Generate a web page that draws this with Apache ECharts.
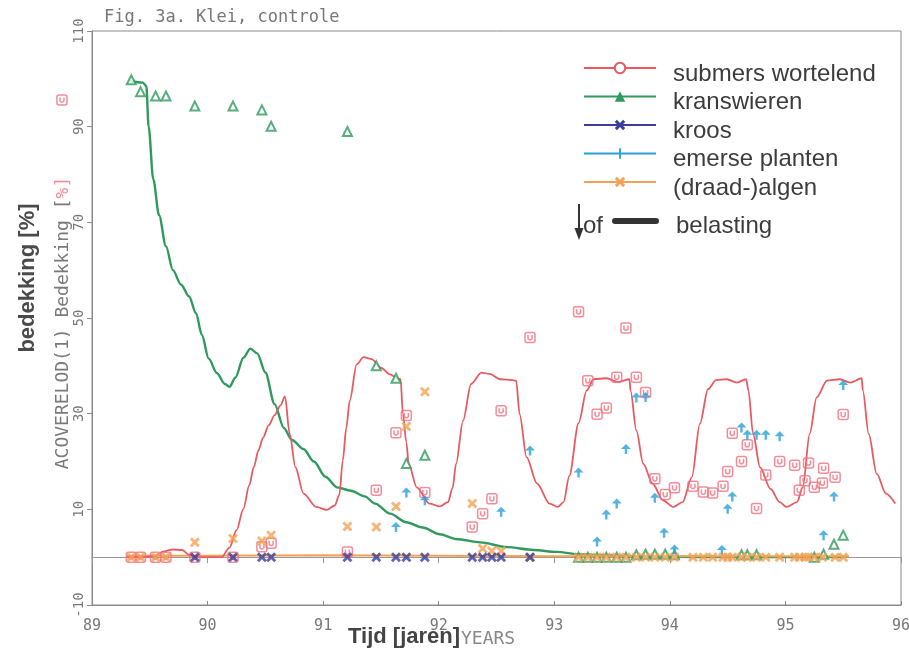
<!DOCTYPE html>
<html>
<head>
<meta charset="utf-8">
<script src="https://cdn.jsdelivr.net/npm/echarts@6/dist/echarts.min.js"></script>
<style>
  html, body { margin: 0; padding: 0; background: #fff; }
  #chart { width: 909px; height: 658px; }
</style>
</head>
<body>
<div id="chart"></div>
<script>
// Axis ranges and tick labels
const yearTicks = [89, 90, 91, 92, 93, 94, 95, 96];
const coverMin = -10, coverMax = 110;

// Model curves [year, bedekking %]
const submersModel = [[89.30,0],[89.45,0],[89.55,0.3],[89.62,1.2],[89.70,1.6],[89.78,1.5],[89.84,0.5],[89.90,0],[90.12,0],[90.19,2.0],[90.25,5.6],[90.31,10.1],[90.36,15.0],[90.40,18.8],[90.44,22.3],[90.48,25.0],[90.53,27.6],[90.58,29.7],[90.63,31.7],[90.67,33.6],[90.71,25.8],[90.76,18.8],[90.83,13.3],[90.94,10.5],[91.03,9.9],[91.10,10.8],[91.14,13.0],[91.17,20.2],[91.20,27.0],[91.23,32.7],[91.29,40.3],[91.35,41.8],[91.42,41.4],[91.50,39.6],[91.58,38.2],[91.64,37.4],[91.67,37.2],[91.69,30.0],[91.72,24.0],[91.74,19.5],[91.81,14.6],[91.92,11.2],[92.01,10.6],[92.08,11.5],[92.12,14.5],[92.15,19.5],[92.21,28.5],[92.28,36.2],[92.37,38.6],[92.44,38.3],[92.53,37.2],[92.63,37.0],[92.67,36.9],[92.70,29.9],[92.76,20.9],[92.85,15.4],[92.96,11.2],[93.03,10.5],[93.08,11.5],[93.13,17.0],[93.21,28.0],[93.28,34.8],[93.34,37.2],[93.45,37.4],[93.55,36.6],[93.65,37.2],[93.66,34.8],[93.71,26.5],[93.77,19.5],[93.85,15.4],[93.94,11.9],[94.03,10.5],[94.11,11.5],[94.19,16.7],[94.26,27.9],[94.33,35.1],[94.40,37.0],[94.49,37.2],[94.58,36.5],[94.66,37.2],[94.68,34.8],[94.72,25.8],[94.78,18.8],[94.87,14.3],[94.95,11.5],[95.01,10.5],[95.10,11.5],[95.15,14.6],[95.21,25.8],[95.27,33.4],[95.36,36.9],[95.47,37.2],[95.56,36.5],[95.66,37.4],[95.67,34.8],[95.72,25.8],[95.79,17.4],[95.87,13.3],[95.95,11.2]];

const kranswierenModel = [[89.33,99.5],[89.44,99.2],[89.47,98.5],[89.49,90.0],[89.53,79.0],[89.58,71.5],[89.64,65.0],[89.70,60.0],[89.77,57.0],[89.84,54.5],[89.90,51.0],[89.95,46.5],[90.01,41.5],[90.08,38.5],[90.15,36.2],[90.19,35.6],[90.24,37.5],[90.31,41.7],[90.37,43.6],[90.43,42.6],[90.50,38.6],[90.58,32.0],[90.66,27.0],[90.73,24.5],[90.83,22.6],[90.92,20.0],[91.02,16.8],[91.12,14.6],[91.24,13.9],[91.36,12.7],[91.45,11.2],[91.58,9.1],[91.72,7.3],[91.86,6.2],[92.01,4.8],[92.15,3.8],[92.36,3.1],[92.59,2.1],[92.82,1.5],[93.02,1.1],[93.22,0.6],[93.39,0.4],[93.70,0.2],[94.00,0.1],[94.50,0],[95.50,0]];

const algenModel = [[89.30,0.3],[90.00,0.3],[91.00,0.4],[92.00,0.3],[93.00,0.2],[94.00,0.2],[95.00,0.2],[95.55,0.2]];

// Field observations [year, bedekking %]
const submersObs = [[88.74,95.6],[89.34,0],[89.42,0],[89.55,0],[89.64,0],[89.89,0],[90.22,0],[90.47,2.2],[90.55,2.9],[91.21,1.1],[91.46,14.0],[91.63,26.0],[91.72,29.6],[91.88,13.5],[92.29,6.3],[92.38,9.1],[92.46,12.2],[92.54,30.6],[92.79,45.9],[93.21,51.3],[93.29,36.9],[93.37,29.9],[93.45,31.2],[93.54,37.6],[93.62,47.9],[93.71,37.6],[93.79,34.4],[93.87,16.4],[93.96,13.1],[94.04,14.5],[94.20,14.8],[94.29,13.6],[94.37,13.4],[94.46,14.8],[94.50,17.9],[94.54,25.9],[94.62,20.0],[94.67,23.5],[94.75,10.2],[94.83,17.2],[94.95,20.0],[95.08,19.2],[95.12,14.0],[95.17,16.0],[95.20,19.7],[95.25,14.6],[95.32,15.5],[95.33,18.6],[95.43,16.7],[95.50,29.8]];

const kranswierenObs = [[89.34,99.8],[89.42,97.3],[89.55,96.4],[89.64,96.4],[89.89,94.3],[90.22,94.3],[90.47,93.5],[90.55,90.1],[91.21,89.0],[91.46,40.0],[91.63,37.4],[91.72,19.6],[91.88,21.3],[93.21,0],[93.29,0],[93.37,0],[93.45,0],[93.54,0],[93.62,0],[93.71,0.5],[93.79,0.6],[93.87,0.6],[93.96,0.6],[94.04,0.5],[94.62,0.5],[94.67,0.5],[94.75,0.5],[95.25,0],[95.33,0.6],[95.42,2.7],[95.50,4.6]];

const kroosObs = [[89.89,0],[90.22,0],[90.47,0],[90.55,0],[91.21,0],[91.46,0],[91.63,0],[91.72,0],[91.88,0],[92.29,0],[92.38,0],[92.46,0],[92.54,0],[92.79,0]];

const emerseObs = [[91.63,6.3],[91.72,13.5],[91.88,11.9],[92.54,9.5],[92.79,22.3],[93.21,17.7],[93.37,3.3],[93.45,8.9],[93.54,11.2],[93.62,22.6],[93.71,33.4],[93.79,33.5],[93.87,12.4],[93.95,5.1],[94.04,1.6],[94.45,1.5],[94.50,10.1],[94.54,12.7],[94.62,27.1],[94.67,25.6],[94.75,25.6],[94.83,25.6],[94.95,25.3],[95.33,4.6],[95.42,12.7],[95.50,36.0]];

const algenObs = [[89.34,0],[89.42,0],[89.55,0],[89.64,0],[89.89,3.1],[90.22,3.9],[90.47,3.4],[90.55,4.6],[91.21,6.4],[91.46,6.3],[91.63,10.6],[91.72,27.3],[91.88,34.6],[92.29,11.2],[92.38,1.8],[92.46,1.3],[92.54,1.3],[92.79,0],[93.21,0],[93.29,0],[93.37,0],[93.45,0],[93.54,0],[93.62,0],[93.71,0],[93.79,0],[93.87,0],[93.96,0],[94.04,0],[94.20,0],[94.29,0],[94.37,0],[94.46,0],[94.50,0],[94.54,0],[94.62,0],[94.67,0],[94.75,0],[94.83,0],[94.95,0],[95.08,0],[95.12,0],[95.17,0],[95.20,0],[95.25,0],[95.32,0],[95.43,0],[95.50,0]];

const legendNames = ['submers wortelend', 'kranswieren', 'kroos', 'emerse planten', '(draad-)algen'];

// Colours
const cRed = '#e85a60', cRedMark = '#ef7080';
const cGreen = '#2f9a5d', cNavy = '#3a3d9a', cBlue = '#2ba0d8', cOrange = '#f4a155';
const cAxis = '#8a8a8a', cTick = '#777';

// Marker shapes
const xShape = 'path://M0,2L2,0L5,3L8,0L10,2L7,5L10,8L8,10L5,7L2,10L0,8L3,5Z';
const arrowShape = 'path://M5,0L10,5H6.2V10H3.8V5H0Z';
// thin upright tick, padded to a square box so it is not stretched
const barShape = 'path://M0,0L0.01,0L0,0.01Z M9.99,10L10,10L10,9.99Z M4.1,0H5.9V10H4.1Z';
const cupShape = 'path://M2,0H8Q10,0 10,2V8Q10,10 8,10H2Q0,10 0,8V2Q0,0 2,0Z M3,2.5V6Q5,8.5 7,6V2.5';

const mono = 'DejaVu Sans Mono';
const sans = 'Liberation Sans';

const chart = echarts.init(document.getElementById('chart'), null, { renderer: 'canvas' });

chart.setOption({
  animation: false,
  backgroundColor: '#fff',
  grid: {
    left: 92, right: 8, top: 31, bottom: 53,
    show: true, borderColor: cAxis, borderWidth: 1,
    outerBoundsMode: 'none'
  },
  xAxis: [
    {
      type: 'value', min: yearTicks[0], max: yearTicks[yearTicks.length - 1], interval: 1,
      position: 'bottom',
      axisLine: { onZero: false, lineStyle: { color: cAxis, width: 1 } },
      axisTick: { show: true, inside: true, length: 4, lineStyle: { color: cAxis } },
      axisLabel: { margin: 14, fontFamily: mono, fontSize: 15, color: cTick },
      splitLine: { show: false }
    },
    {
      type: 'value', min: yearTicks[0], max: yearTicks[yearTicks.length - 1], interval: 1,
      position: 'bottom',
      axisLine: { show: true, onZero: true, onZeroAxisIndex: 0, lineStyle: { color: '#999', width: 1 } },
      axisTick: { show: true, length: 6, lineStyle: { color: '#999' } },
      axisLabel: { show: false },
      splitLine: { show: false }
    }
  ],
  yAxis: [
    {
      type: 'value', min: coverMin, max: coverMax, position: 'left',
      axisLine: { show: true, onZero: false, lineStyle: { color: cAxis, width: 1 } },
      axisTick: { show: false },
      axisLabel: { show: false },
      splitLine: { show: false }
    },
    {
      // tick labels -10, 10, 30 ... 110 laid over the same span
      type: 'value', min: 0, max: coverMax - coverMin, interval: 20, position: 'left',
      axisLine: { show: false, onZero: false },
      axisTick: { show: true, length: 5, lineStyle: { color: cAxis } },
      axisLabel: {
        rotate: 90, margin: 6, fontFamily: mono, fontSize: 14, color: cTick,
        formatter: v => String(v + coverMin)
      },
      splitLine: { show: false }
    }
  ],
  legend: {
    data: legendNames,
    orient: 'vertical',
    left: 583, top: 52,
    padding: 0,
    itemWidth: 72, itemHeight: 13, itemGap: -5.5,
    selectedMode: false,
    // an empty first line drops each label slightly below its key line
    formatter: name => '{s| }\n{t|' + name + '}',
    textStyle: {
      padding: [0, 0, 0, 12],
      rich: {
        s: { fontSize: 8, lineHeight: 12 },
        t: { fontFamily: sans, fontSize: 24, lineHeight: 24, color: '#3c3c3c' }
      }
    }
  },
  series: [
    {
      name: 'kranswieren', type: 'line', data: kranswierenModel,
      symbol: 'triangle', showSymbol: false, smooth: 0.3, smoothMonotone: 'x',
      lineStyle: { color: cGreen, width: 2.4 }, itemStyle: { color: cGreen }, z: 2
    },
    {
      name: 'submers wortelend', type: 'line', data: submersModel,
      symbol: 'emptyCircle', showSymbol: false, smooth: 0.3, smoothMonotone: 'x',
      lineStyle: { color: cRed, width: 1.8 }, itemStyle: { color: cRed }, z: 3
    },
    {
      name: 'kroos', type: 'line', data: [],
      symbol: xShape, showSymbol: false,
      lineStyle: { color: cNavy, width: 2 }, itemStyle: { color: cNavy }
    },
    {
      name: 'emerse planten', type: 'line', data: [],
      symbol: barShape, showSymbol: false,
      lineStyle: { color: cBlue, width: 2 }, itemStyle: { color: cBlue }
    },
    {
      name: '(draad-)algen', type: 'line', data: algenModel,
      symbol: xShape, showSymbol: false,
      lineStyle: { color: cOrange, width: 2 }, itemStyle: { color: cOrange }, z: 2
    },
    {
      name: 'submers wortelend', type: 'scatter', data: submersObs, clip: false,
      symbol: cupShape, symbolSize: 10,
      itemStyle: { color: 'rgba(255,255,255,0)', borderColor: cRedMark, borderWidth: 1.5 }, z: 4
    },
    {
      name: 'kranswieren', type: 'scatter', data: kranswierenObs,
      symbol: 'emptyTriangle', symbolSize: 9,
      itemStyle: { color: cGreen, borderColor: cGreen, borderWidth: 2.2 }, z: 4
    },
    {
      name: 'emerse planten', type: 'scatter', data: emerseObs,
      symbol: arrowShape, symbolSize: 10,
      itemStyle: { color: cBlue }, z: 5
    },
    {
      name: '(draad-)algen', type: 'scatter', data: algenObs,
      symbol: xShape, symbolSize: 10,
      itemStyle: { color: cOrange }, z: 5
    },
    {
      name: 'kroos', type: 'scatter', data: kroosObs,
      symbol: xShape, symbolSize: 10,
      itemStyle: { color: cNavy }, z: 6
    }
  ],
  graphic: [
    {
      type: 'text', left: 104, top: 9,
      style: { text: 'Fig. 3a. Klei, controle', fontFamily: mono, fontSize: 17, fill: '#777' }
    },
    {
      type: 'text', x: 28, y: 278, rotation: Math.PI / 2,
      style: {
        text: 'bedekking [%]', fontFamily: sans, fontSize: 22, fontWeight: 'bold',
        fill: '#4a4a4a', align: 'center', verticalAlign: 'middle'
      }
    },
    {
      type: 'text', x: 63, y: 323, rotation: Math.PI / 2,
      style: {
        text: '{g|ACOVERELOD(1) Bedekking [}{r|%]}',
        align: 'center', verticalAlign: 'middle',
        rich: {
          g: { fontFamily: mono, fontSize: 18, fill: '#7a7a7a' },
          r: { fontFamily: mono, fontSize: 18, fill: '#f28a98' }
        }
      }
    },
    {
      type: 'text', x: 348, y: 637,
      style: {
        text: 'Tijd [jaren]', fontFamily: sans, fontSize: 22, fontWeight: 'bold',
        fill: '#444', align: 'left', verticalAlign: 'middle'
      }
    },
    {
      type: 'text', x: 461, y: 639,
      style: {
        text: 'YEARS', fontFamily: mono, fontSize: 18, fill: '#888',
        align: 'left', verticalAlign: 'middle'
      }
    },
    // "belasting" key: arrow, "of", thick bar
    {
      type: 'line', shape: { x1: 579, y1: 204, x2: 579, y2: 231 },
      style: { stroke: '#333', lineWidth: 2 }
    },
    {
      type: 'polygon', shape: { points: [[574.5, 228], [583.5, 228], [579, 240]] },
      style: { fill: '#333' }
    },
    {
      type: 'text', x: 583, y: 226,
      style: { text: 'of', fontFamily: sans, fontSize: 24, fill: '#3c3c3c', align: 'left', verticalAlign: 'middle' }
    },
    {
      type: 'rect', shape: { x: 612, y: 218, width: 47, height: 6, r: 3 },
      style: { fill: '#333' }
    },
    {
      type: 'text', x: 676, y: 226,
      style: { text: 'belasting', fontFamily: sans, fontSize: 24, fill: '#3c3c3c', align: 'left', verticalAlign: 'middle' }
    }
  ]
});
</script>
</body>
</html>
